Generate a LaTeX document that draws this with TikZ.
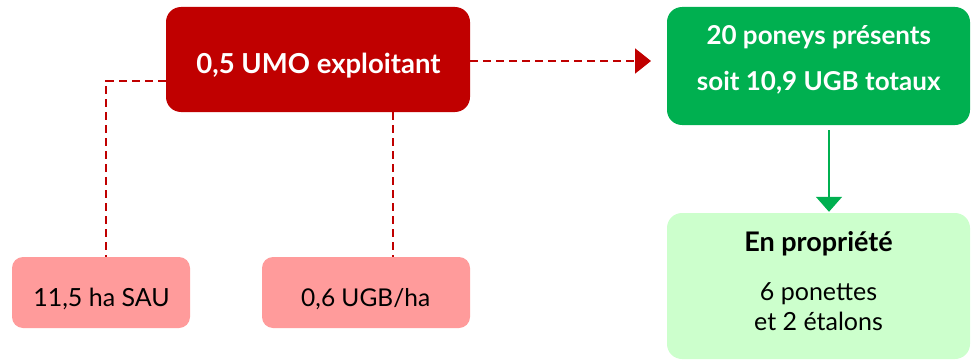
\documentclass[tikz,border=0pt]{standalone}
\usepackage{fontspec}
\setmainfont{Lato}
\usetikzlibrary{arrows.meta}
\definecolor{cred}{HTML}{C00000}
\definecolor{cgreen}{HTML}{00B050}
\definecolor{cpink}{HTML}{FF9B9B}
\definecolor{clgreen}{HTML}{CCFFCC}
\begin{document}
\begin{tikzpicture}[x=1pt,y=-1pt,
  box/.style={rectangle,rounded corners=15pt,draw=none,inner sep=0pt},
  txt/.style={anchor=base,inner sep=0pt},
  reddash/.style={draw=cred,line width=2pt,dash pattern=on 8pt off 5pt},
  greenline/.style={draw=cgreen,line width=1.6pt}]
\useasboundingbox (0,0) rectangle (976,361);
% boxes
\node[box,fill=cred,minimum width=304pt,minimum height=105pt] (red) at (318,59.5) {};
\node[box,fill=cgreen,minimum width=303pt,minimum height=118pt] (green) at (818.5,66) {};
\node[box,fill=clgreen,minimum width=303pt,minimum height=146pt] (prop) at (818.5,286) {};
\node[box,fill=cpink,minimum width=178pt,minimum height=71pt,rounded corners=11pt] (pinka) at (101,292.5) {};
\node[box,fill=cpink,minimum width=208pt,minimum height=71pt,rounded corners=11pt] (pinkb) at (366,292.5) {};
% texts
\node[txt,text=white,font=\fontsize{27.5}{32}\selectfont\bfseries] (tred) at (318.5,73) {0,5 UMO exploitant};
\node[txt,text=white,font=\fontsize{26}{30}\selectfont\bfseries] (tg1) at (818.7,45) {20 poneys présents};
\node[txt,text=white,font=\fontsize{26}{30}\selectfont\bfseries] (tg2) at (818.7,90) {soit 10,9 UGB totaux};
\node[txt,text=black,font=\fontsize{25}{30}\selectfont] (tpa) at (101.5,306.7) {11,5 ha SAU};
\node[txt,text=black,font=\fontsize{24.5}{30}\selectfont] (tpb) at (365.7,306.7) {0,6 UGB/ha};
\node[txt,text=black,font=\fontsize{27}{32}\selectfont\bfseries] (tp1) at (818.5,251) {En propriété};
\node[txt,text=black,font=\fontsize{25}{30}\selectfont] (tp2) at (818.5,300) {6 ponettes};
\node[txt,text=black,font=\fontsize{25}{30}\selectfont] (tp3) at (818.5,330.7) {et 2 étalons};
% connectors
\draw[reddash] ([yshift=-21.5pt]red.west) -| ([xshift=5pt]pinka.north);
\draw[reddash] ([xshift=75pt]red.south) -- ([xshift=27pt]pinkb.north);
\coordinate (tip) at (651,61);
\draw[reddash,-{Triangle[length=16pt,width=25pt,fill=cred,sep=0pt]}] (red.east |- tip) -- (tip);
\draw[greenline,-{Triangle[length=15pt,width=26pt]}] ([xshift=10.5pt,yshift=-5pt]green.south) -- ([xshift=10.5pt,yshift=1pt]prop.north);
\end{tikzpicture}
\end{document}
